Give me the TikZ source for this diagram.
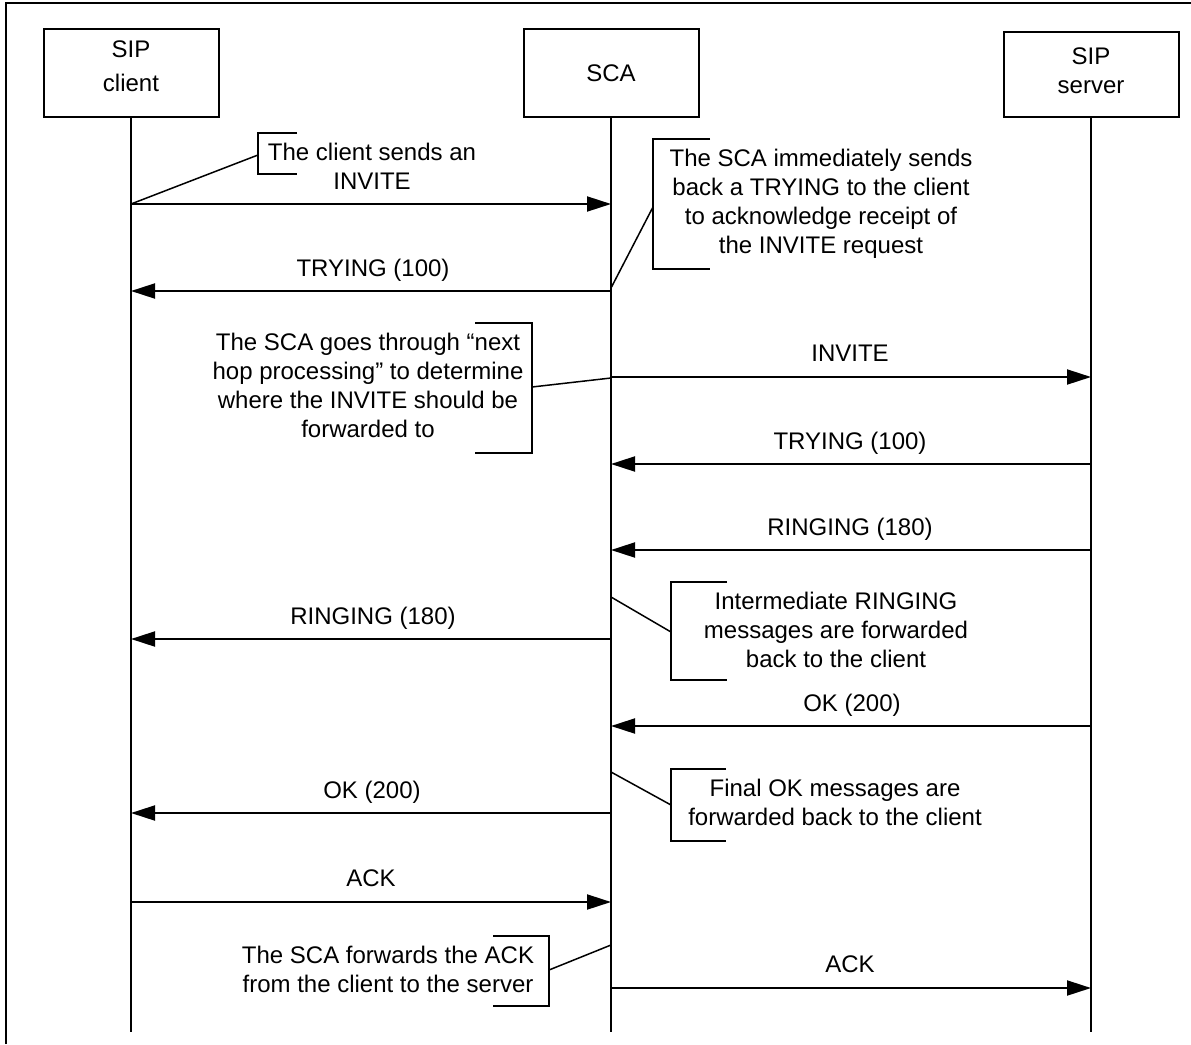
\documentclass[tikz,border=0pt]{standalone}
\usepackage{fontspec}
\setmainfont{Liberation Sans}
\usetikzlibrary{arrows.meta}
\begin{document}
\begin{tikzpicture}[x=1pt,y=-1pt,
  every node/.style={font=\fontsize{24}{29}\selectfont, inner sep=0pt},
  head/.style={draw, line width=2pt, minimum width=175pt, minimum height=88pt, align=center},
  life/.style={line width=2pt},
  msg/.style={line width=2pt, -{Triangle[length=24pt,width=15pt]}},
  note/.style={align=center, anchor=north},
  bracket/.style={line width=2pt},
  lead/.style={line width=1.5pt},
  lbl/.style={anchor=base}]
\useasboundingbox (0,0) rectangle (1191,1044);
\draw[line width=2pt] (6,1044) -- (6,3) -- (1191,3);

% heads and lifelines
\node[head] (client) at (131,73) {\raisebox{4pt}[\height][\depth]{\begin{tabular}{@{}c@{}}SIP\\[5pt]client\end{tabular}}};
\node[head] (sca) at (611,73) {SCA};
\node[head, minimum height=85pt] (server) at (1091,74.5) {\raisebox{1pt}[\height][\depth]{\begin{tabular}{@{}c@{}}SIP\\server\end{tabular}}};
\coordinate (clientend) at (131,1032);
\coordinate (scaend) at (611,1032);
\coordinate (serverend) at (1091,1032);
\draw[life] (client.south) -- (clientend);
\draw[life] (sca.south) -- (scaend);
\draw[life] (server.south) -- (serverend);

% message end points
\foreach \n/\y in {1/204,2/291,3/377,4/464,5/550,6/639,7/726,8/813,9/902,10/988}{
  \coordinate (c\n) at (131,\y);
  \coordinate (s\n) at (611,\y);
  \coordinate (v\n) at (1091,\y);
}

% messages
\draw[msg] (c1) -- (s1);
\draw[msg] (s2) -- (c2);
\node[lbl] (t2) at (373,276.6) {TRYING (100)};
\draw[msg] (s3) -- (v3);
\node[lbl] (t3) at (850,361.6) {INVITE};
\draw[msg] (v4) -- (s4);
\node[lbl] (t4) at (850,449.6) {TRYING (100)};
\draw[msg] (v5) -- (s5);
\node[lbl] (t5) at (850,535.6) {RINGING (180)};
\draw[msg] (s6) -- (c6);
\node[lbl] (t6) at (373,624.6) {RINGING (180)};
\draw[msg] (v7) -- (s7);
\node[lbl] (t7) at (852,711.6) {OK (200)};
\draw[msg] (s8) -- (c8);
\node[lbl] (t8) at (372,798.6) {OK (200)};
\draw[msg] (c9) -- (s9);
\node[lbl] (t9) at (371,886.6) {ACK};
\draw[msg] (s10) -- (v10);
\node[lbl] (t10) at (850,972.6) {ACK};

% annotation 1
\node[note] (n1) at (372,143) {The client sends an\\INVITE};
\draw[bracket] (297,133) -- (258,133) -- (258,174) -- (297,174);
\coordinate (b1) at (258,155);
\draw[lead] (c1) -- (b1);

% annotation 2
\node[note] (n2) at (821,149) {The SCA immediately sends\\back a TRYING to the client\\to acknowledge receipt of\\the INVITE request};
\draw[bracket] (710,139) -- (653,139) -- (653,269) -- (710,269);
\coordinate (b2) at (653,207);
\coordinate (l2) at (611,288);
\draw[lead] (l2) -- (b2);

% annotation 3
\node[note] (n3) at (368,333) {The SCA goes through “next\\hop processing” to determine\\where the INVITE should be\\forwarded to};
\draw[bracket] (475,323) -- (532,323) -- (532,453) -- (475,453);
\coordinate (b3) at (532,387);
\coordinate (l3) at (611,378);
\draw[lead] (b3) -- (l3);

% annotation 4
\node[note] (n4) at (836,592) {Intermediate RINGING\\messages are forwarded\\back to the client};
\draw[bracket] (727,582) -- (671,582) -- (671,680) -- (727,680);
\coordinate (b4) at (671,632);
\coordinate (l4) at (611,597);
\draw[lead] (l4) -- (b4);

% annotation 5
\node[note] (n5) at (835,779) {Final OK messages are\\forwarded back to the client};
\draw[bracket] (726,769) -- (671,769) -- (671,841) -- (726,841);
\coordinate (b5) at (671,805);
\coordinate (l5) at (611,772);
\draw[lead] (l5) -- (b5);

% annotation 6
\node[note] (n6) at (388,946) {The SCA forwards the ACK\\from the client to the server};
\draw[bracket] (493,936) -- (549,936) -- (549,1006) -- (493,1006);
\coordinate (b6) at (549,970);
\coordinate (l6) at (611,945);
\draw[lead] (b6) -- (l6);
\end{tikzpicture}
\end{document}
